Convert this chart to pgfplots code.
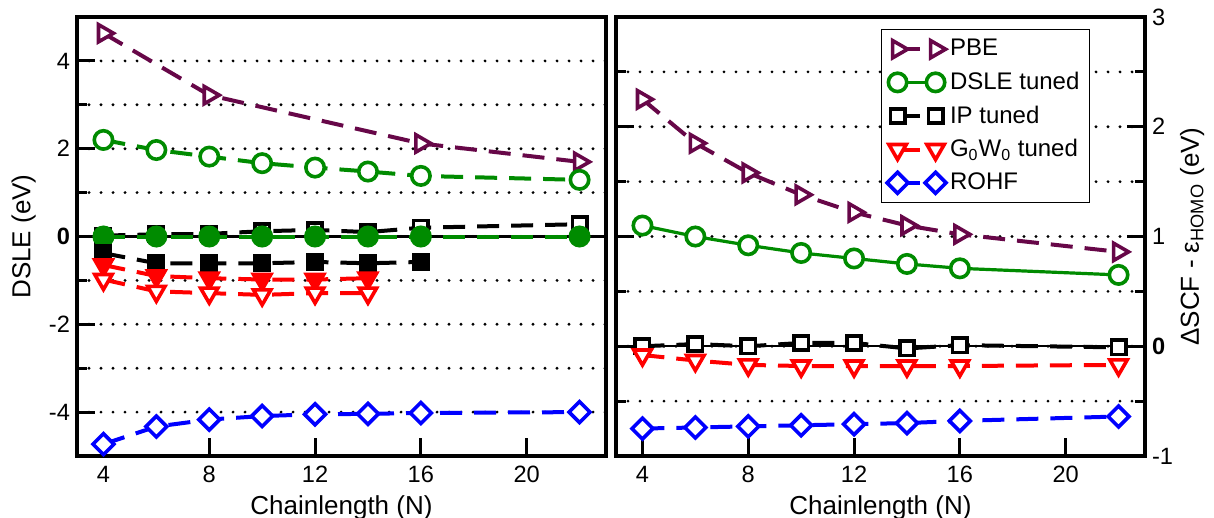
\documentclass[border=0pt]{standalone}
\usepackage{pgfplots}
\pgfplotsset{compat=1.18}
\usepackage{fontspec}
\setmainfont{Liberation Sans}
\definecolor{pbe}{RGB}{103,7,72}
\definecolor{grn}{RGB}{0,139,0}
\pgfplotsset{
  base/.style={
    scale only axis, width=264.5pt, height=219.5pt,
    xmin=3, xmax=23, xtick={4,8,12,16,20}, xticklabels={4,8,12,16,20},
    xtick pos=lower,
    axis line style={line width=1.6pt},
    every tick/.style={black, line width=1.5pt},
    major tick length=9pt, minor tick length=5pt,
    tick align=inside,
    ymajorgrids, yminorgrids,
    major grid style={black, line width=1.6pt, dash pattern=on 0pt off 6pt, line cap=round},
    minor grid style={black, line width=1.6pt, dash pattern=on 0pt off 6pt, line cap=round},
    tick label style={font=\fontsize{11.8}{13}\selectfont},
    xticklabel style={yshift=-1.5pt},
    label style={font=\fontsize{13}{15}\selectfont},
    xlabel={Chainlength (N)},
    xlabel style={at={(axis description cs:0.5,-0.118)}, anchor=center},
    clip=false,
  },
  ds/.style={line width=2pt, dash pattern=on 11pt off 6pt},
  so/.style={line width=1.6pt, solid},
  pbem/.style={color=pbe, mark=triangle*, mark size=5pt, mark options={solid, rotate=-90, fill=white, line width=1.8pt}},
  circ/.style={color=grn, mark=*, mark size=4.6pt, mark options={solid, fill=#1, line width=1.8pt}},
  sq/.style={color=black, mark=square*, mark size=3.6pt, mark options={solid, fill=#1, line width=1.8pt}},
  tri/.style={color=red, mark=triangle*, mark size=5pt, mark options={solid, rotate=180, fill=#1, line width=1.8pt}},
  dia/.style={color=blue, mark=square*, mark size=3.7pt, mark options={solid, rotate=45, fill=white, line width=1.8pt}},
}
\begin{document}
\begin{tikzpicture}
\useasboundingbox (0,0) rectangle (607pt,-259pt);
\begin{axis}[base, at={(38.5pt,-228pt)}, anchor=south west,
  ymin=-5, ymax=5, ytick={-4,-2,0,2,4}, yticklabels={-4,-2,\textbf{0},2,4},
  minor ytick={-3,-1,1,3}, ytick pos=left,
  ylabel={DSLE (eV)},
  ylabel style={at={(axis description cs:-0.101,0.5)}, anchor=center}]
\addplot[black, line width=1.2pt, forget plot] coordinates {(3,0) (23,0)};
\addplot[ds, pbem] coordinates {(4,4.63) (8,3.22) (16,2.12) (22,1.70)};
\addplot[ds, circ=white] coordinates {(4,2.20) (6,1.97) (8,1.82) (10,1.67) (12,1.57) (14,1.48) (16,1.38) (22,1.29)};
\addplot[ds, sq=white] coordinates {(4,0.02) (6,0.05) (8,0.06) (10,0.12) (12,0.15) (14,0.10) (16,0.20) (22,0.28)};
\addplot[ds, circ=grn] coordinates {(4,0) (6,0) (8,0) (10,0) (12,0) (14,0) (16,0) (22,0)};
\addplot[ds, sq=black] coordinates {(4,-0.38) (6,-0.61) (8,-0.61) (10,-0.61) (12,-0.58) (14,-0.61) (16,-0.58)};
\addplot[ds, tri=red] coordinates {(4,-0.65) (6,-0.90) (8,-0.95) (10,-0.98) (12,-0.98) (14,-0.95)};
\addplot[ds, tri=white] coordinates {(4,-0.98) (6,-1.25) (8,-1.29) (10,-1.33) (12,-1.29) (14,-1.29)};
\addplot[ds, dia] coordinates {(4,-4.73) (6,-4.33) (8,-4.17) (10,-4.09) (12,-4.05) (14,-4.04) (16,-4.02) (22,-4.00)};
\end{axis}
\begin{axis}[base, at={(308pt,-228pt)}, anchor=south west,
  ymin=-1, ymax=3, ytick={-1,0,1,2,3}, yticklabels={-1,\textbf{0},1,2,3},
  minor ytick={-0.5,0.5,1.5,2.5}, ytick pos=both, yticklabel pos=right,
  ylabel={ΔSCF - ε\textsubscript{HOMO} (eV)},
  ylabel style={at={(axis description cs:1.089,0.5)}, anchor=center},
  legend style={draw=black, line width=0.6pt, font=\fontsize{12}{13}\selectfont,
    at={(0.5,0.973)}, anchor=north west, row sep=2.6pt, inner xsep=3pt, inner ysep=3pt,
    cells={anchor=west}},
  legend image code/.code={\draw[#1] plot coordinates {(0pt,0pt) (19pt,0pt)};}]
\addplot[black, line width=1.2pt, forget plot] coordinates {(3,0) (23,0)};
\addplot[ds, pbem] coordinates {(4,2.25) (6,1.85) (8,1.58) (10,1.38) (12,1.22) (14,1.10) (16,1.02) (22,0.86)};
\addlegendentry{PBE}
\addplot[so, circ=white] coordinates {(4,1.10) (6,1.00) (8,0.92) (10,0.85) (12,0.80) (14,0.75) (16,0.71) (22,0.65)};
\addlegendentry{DSLE tuned}
\addplot[ds, sq=white] coordinates {(4,0.00) (6,0.02) (8,0.00) (10,0.03) (12,0.03) (14,-0.02) (16,0.01) (22,-0.01)};
\addlegendentry{IP tuned}
\addplot[ds, tri=white] coordinates {(4,-0.08) (6,-0.13) (8,-0.17) (10,-0.18) (12,-0.18) (14,-0.18) (16,-0.18) (22,-0.17)};
\addlegendentry{G\textsubscript{0}W\textsubscript{0} tuned}
\addplot[ds, dia] coordinates {(4,-0.75) (6,-0.74) (8,-0.73) (10,-0.72) (12,-0.71) (14,-0.70) (16,-0.68) (22,-0.64)};
\addlegendentry{ROHF}
\end{axis}
\end{tikzpicture}
\end{document}
